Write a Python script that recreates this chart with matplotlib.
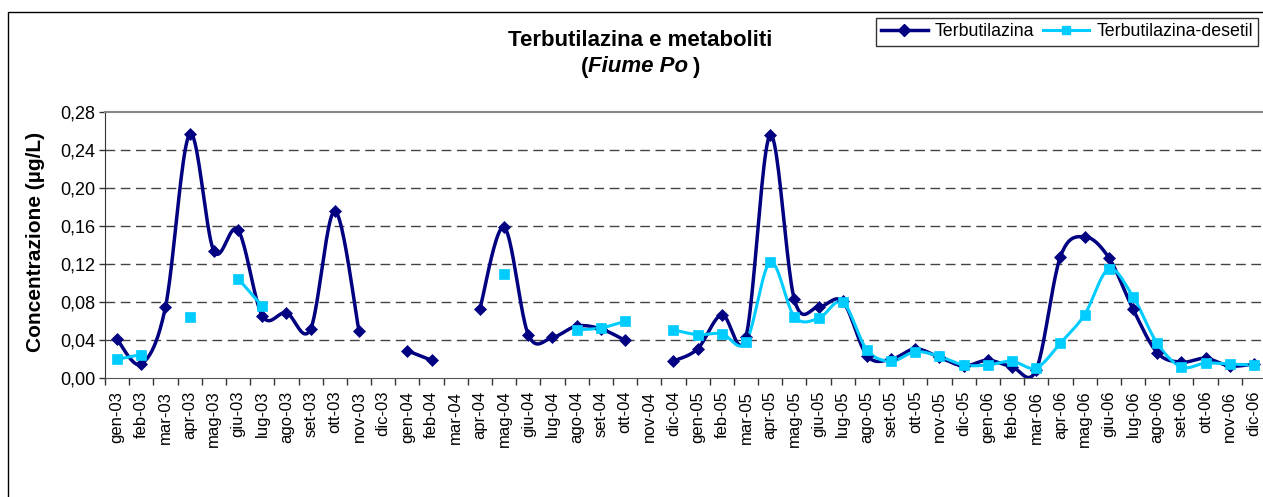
import numpy as np
import matplotlib
matplotlib.use('Agg')
import matplotlib.pyplot as plt
from matplotlib.lines import Line2D
from matplotlib.ticker import FixedLocator, FuncFormatter

plt.rcParams['font.family'] = ['Liberation Sans', 'DejaVu Sans']

nan = np.nan
mesi = ['gen', 'feb', 'mar', 'apr', 'mag', 'giu',
        'lug', 'ago', 'set', 'ott', 'nov', 'dic']
anni = ['03', '04', '05', '06']
categorie = [f'{m}-{a}' for a in anni for m in mesi]

# µg/L, one value per month (nan = not sampled)
terbutilazina = [0.041, 0.015, 0.075, 0.257, 0.134, 0.156, 0.066, 0.069, 0.052, 0.176, 0.050, nan,
                 0.029, 0.019, nan, 0.073, 0.159, 0.046, 0.043, 0.055, 0.052, 0.040, nan, 0.018,
                 0.031, 0.067, 0.044, 0.256, 0.083, 0.075, 0.081, 0.024, 0.020, 0.031, 0.022, 0.013,
                 0.019, 0.012, 0.009, 0.128, 0.149, 0.127, 0.073, 0.027, 0.017, 0.021, 0.013, 0.015]
desetil = [0.020, 0.025, nan, 0.065, nan, 0.105, 0.076, nan, nan, nan, nan, nan,
           nan, nan, nan, nan, 0.110, nan, nan, 0.051, 0.053, 0.060, nan, 0.051,
           0.046, 0.047, 0.038, 0.122, 0.065, 0.063, 0.080, 0.030, 0.018, 0.028, 0.023, 0.014,
           0.014, 0.018, 0.011, 0.037, 0.067, 0.115, 0.086, 0.037, 0.012, 0.016, 0.015, 0.014]

y_ticks = [0.00, 0.04, 0.08, 0.12, 0.16, 0.20, 0.24, 0.28]

NAVY = '#000080'
CYAN = '#00CCFF'


def smooth_runs(x, y, n=24):
    """Split on gaps and return bezier-smoothed runs (Excel style)."""
    x = np.asarray(x, float)
    y = np.asarray(y, float)
    ok = ~np.isnan(y)
    runs, cur = [], []
    for i in range(len(y)):
        if ok[i]:
            cur.append(i)
        elif cur:
            runs.append(cur)
            cur = []
    if cur:
        runs.append(cur)
    out = []
    for r in runs:
        if len(r) < 2:
            continue
        px, py = x[r], y[r]
        xs, ys = [], []
        for k in range(len(r) - 1):
            p0 = max(k - 1, 0)
            p3 = min(k + 2, len(r) - 1)
            c1x = px[k] + (px[k + 1] - px[p0]) / 6
            c1y = py[k] + (py[k + 1] - py[p0]) / 6
            c2x = px[k + 1] - (px[p3] - px[k]) / 6
            c2y = py[k + 1] - (py[p3] - py[k]) / 6
            t = np.linspace(0, 1, n)
            b0, b1, b2, b3 = (1 - t) ** 3, 3 * t * (1 - t) ** 2, 3 * t ** 2 * (1 - t), t ** 3
            xs.append(b0 * px[k] + b1 * c1x + b2 * c2x + b3 * px[k + 1])
            ys.append(b0 * py[k] + b1 * c1y + b2 * c2y + b3 * py[k + 1])
        out.append((np.concatenate(xs), np.concatenate(ys)))
    return out


W, H = 1263, 497
fig = plt.figure(figsize=(W / 100, H / 100), dpi=100)
ax = fig.add_axes([105 / W, 1 - 378.3 / H, (1266 - 105) / W, (378.3 - 112.3) / H])

# outer chart border
fig.add_artist(plt.Rectangle((8 / W, -0.1), 1.2, 1.1 - 12 / H, transform=fig.transFigure,
                             fill=False, ec='black', lw=1.0))

x = np.arange(len(categorie))
for vals, col, mk, ms, lw in [(terbutilazina, NAVY, 'D', 6, 2.5),
                              (desetil, CYAN, 's', 6.5, 2.2)]:
    for sx, sy in smooth_runs(x, vals):
        ax.plot(sx, sy, color=col, lw=lw, solid_capstyle='round', zorder=3)
    ax.plot(x, vals, ls='none', marker=mk, ms=ms, color=col, mec=col, mew=0.5, zorder=4)

ax.set_xlim(-0.5, len(categorie) - 0.5)
ax.set_ylim(0, 0.28)

ax.yaxis.set_major_locator(FixedLocator(y_ticks))
ax.yaxis.set_major_formatter(FuncFormatter(lambda v, p: f'{v:.2f}'.replace('.', ',')))
ax.tick_params(axis='y', direction='out', length=4, width=1, color='#333333',
               labelsize=13, pad=3)
ax.set_xticks(x)
ax.set_xticklabels(categorie, rotation=90, fontsize=12)
ax.set_xticks(np.arange(len(categorie) + 1) - 0.5, minor=True)
ax.tick_params(axis='x', which='major', length=0, pad=9)
ax.tick_params(axis='x', which='minor', direction='out', length=5, width=1, color='#333333')

for v in y_ticks[1:-1]:
    ax.axhline(v, color='#444444', lw=1, dashes=(7, 4), zorder=1)

ax.spines['left'].set_color('#333333')
ax.spines['bottom'].set_color('#555555')
ax.spines['top'].set_color('#888888')
ax.spines['top'].set_linewidth(1.5)
ax.spines['right'].set_visible(False)

ax.set_ylabel('Concentrazione (µg/L)', fontsize=15, fontweight='bold')
ax.yaxis.set_label_coords((45 - 105) / 1161, (378.3 - 241.5) / 266)

# title: two lines, second with italic river name
fig.text(640 / W, 1 - 41 / H, 'Terbutilazina e metaboliti', ha='center', va='center',
         fontsize=16, fontweight='bold')
parts = [('(', 'normal', 0), ('Fiume Po', 'italic', 0), (')', 'normal', 4)]
texts = [fig.text(0, 1 - 67 / H, s, ha='left', va='center', fontsize=16,
                  fontweight='bold', style=st) for s, st, _ in parts]
fig.canvas.draw()
r = fig.canvas.get_renderer()
widths = [t.get_window_extent(r).width + gap for t, (_, _, gap) in zip(texts, parts)]
xpos = 640 - sum(widths) / 2
for t, w, (_, _, gap) in zip(texts, widths, parts):
    t.set_x((xpos + gap) / W)
    xpos += w

handles = [Line2D([], [], color=NAVY, lw=2.5, marker='D', ms=6),
           Line2D([], [], color=CYAN, lw=2.2, marker='s', ms=6)]
leg = fig.legend(handles, ['Terbutilazina', 'Terbutilazina-desetil'], ncol=2,
                 loc='upper left', bbox_to_anchor=(876 / W, 1 - 18 / H),
                 fontsize=12.8, frameon=True, fancybox=False, edgecolor='black',
                 handlelength=2.6, handletextpad=0.4, columnspacing=0.5,
                 borderpad=0.3, borderaxespad=0)
leg.get_frame().set_linewidth(1.0)

fig.savefig('out.png', dpi=100, facecolor='white')
